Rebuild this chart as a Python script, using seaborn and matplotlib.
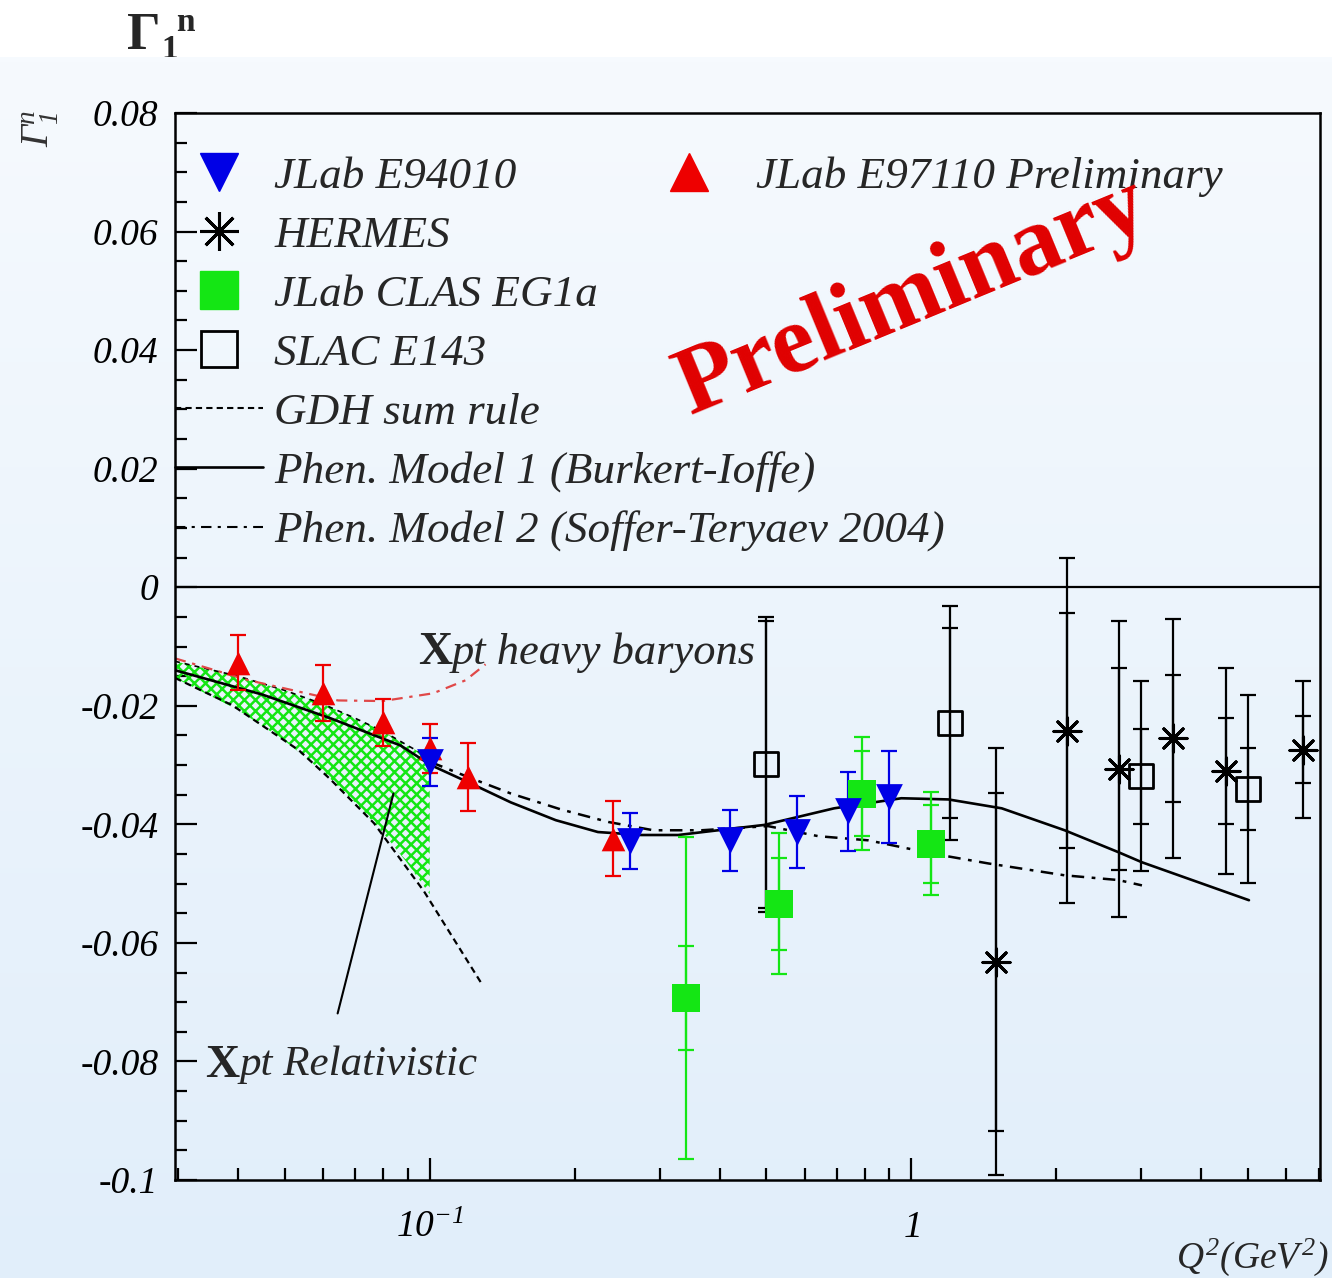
import numpy as np
import matplotlib
matplotlib.use("Agg")
import matplotlib.pyplot as plt
import matplotlib.ticker as mticker
import matplotlib.transforms as mtransforms
from matplotlib.lines import Line2D
import seaborn as sns

sns.set_theme(style="white")
plt.rcParams["font.family"] = ["Liberation Serif", "DejaVu Serif"]
plt.rcParams["font.style"] = "italic"
plt.rcParams["mathtext.fontset"] = "custom"
plt.rcParams["mathtext.rm"] = "Liberation Serif:italic"
plt.rcParams["mathtext.it"] = "Liberation Serif:italic"
plt.rcParams["mathtext.bf"] = "Liberation Serif:bold"
plt.rcParams["hatch.color"] = "#22e022"
plt.rcParams["hatch.linewidth"] = 1.8

# ---------------- measurements: Gamma_1^n(Q^2) ----------------
e94010_q2 = [0.10, 0.26, 0.42, 0.58, 0.74, 0.90]
e94010_g1 = [-0.0295, -0.0428, -0.0427, -0.0413, -0.0378, -0.0354]
e94010_err = [0.0040, 0.0047, 0.0052, 0.0061, 0.0067, 0.0078]

e97110_q2 = [0.04, 0.06, 0.08, 0.10, 0.12, 0.24]
e97110_g1 = [-0.0127, -0.0179, -0.0228, -0.0272, -0.0320, -0.0424]
e97110_err = [0.0046, 0.0047, 0.0040, 0.0042, 0.0058, 0.0063]

hermes_q2 = [1.5, 2.1, 2.7, 3.5, 4.5, 6.5]
hermes_g1 = [-0.0632, -0.0242, -0.0307, -0.0255, -0.0310, -0.0274]
hermes_stat = [0.0285, 0.0198, 0.0170, 0.0107, 0.0089, 0.0057]
hermes_tot = [0.0360, 0.0291, 0.0250, 0.0202, 0.0173, 0.0116]

eg1a_q2 = [0.34, 0.53, 0.79, 1.10]
eg1a_g1 = [-0.0693, -0.0534, -0.0348, -0.0433]
eg1a_stat = [0.0088, 0.0078, 0.0071, 0.0066]
eg1a_tot = [0.0271, 0.0119, 0.0096, 0.0087]

e143_q2 = [0.5, 1.2, 3.0, 5.0]
e143_g1 = [-0.0299, -0.0229, -0.0319, -0.0340]
e143_stat = [0.0242, 0.0161, 0.0080, 0.0069]
e143_tot = [0.0249, 0.0198, 0.0160, 0.0159]

# ---------------- theory curves ----------------
gdh_q2 = [0.0296, 0.0389, 0.0535, 0.0622, 0.0766, 0.0973, 0.128]
gdh_g1 = [-0.0153, -0.0199, -0.0275, -0.0324, -0.0398, -0.0513, -0.0668]

model1_q2 = [0.0296, 0.0449, 0.0622, 0.0870, 0.1005, 0.1217, 0.1474, 0.1827,
             0.2235, 0.2746, 0.328, 0.397, 0.495, 0.691, 0.953, 1.194, 1.54,
             2.08, 2.69, 3.01, 5.02]
model1_g1 = [-0.0140, -0.0181, -0.0221, -0.0267, -0.0300, -0.0331, -0.0363,
             -0.0393, -0.0413, -0.0418, -0.0418, -0.0410, -0.0401, -0.0373,
             -0.0356, -0.0358, -0.0373, -0.0410, -0.0447, -0.0464, -0.0528]

model2_q2 = [0.1005, 0.1217, 0.1474, 0.1875, 0.2348, 0.2913, 0.3664, 0.504,
             0.641, 0.814, 1.116, 1.445, 2.08, 2.69, 3.01]
model2_g1 = [-0.0295, -0.0322, -0.0348, -0.0375, -0.0396, -0.0410, -0.0410,
             -0.0403, -0.0420, -0.0427, -0.0450, -0.0466, -0.0486, -0.0494,
             -0.0503]

hb_q2 = [0.0296, 0.0421, 0.0645, 0.0799, 0.1016, 0.1187, 0.1306]
hb_g1 = [-0.0120, -0.0157, -0.0191, -0.0192, -0.0179, -0.0157, -0.0130]

band_q2 = [0.0296, 0.04, 0.05, 0.06, 0.07, 0.08, 0.09, 0.10]
band_hi = [-0.0125, -0.0150, -0.0174, -0.0197, -0.0221, -0.0243, -0.0267, -0.0288]
band_lo = [-0.0153, -0.0207, -0.0259, -0.0311, -0.0363, -0.0414, -0.0466, -0.0518]

ytick_vals = [-0.1, -0.08, -0.06, -0.04, -0.02, 0.0, 0.02, 0.04, 0.06, 0.08]

BLUE = "#0000e6"
RED = "#ee0000"
GREEN = "#14e614"

W, H = 1332, 1278
fig = plt.figure(figsize=(W / 100, H / 100), dpi=100)
fig.patch.set_facecolor("white")


def fpos(px, py):
    return px / W, 1 - py / H


# header, partly covered by the shaded panel
fig.text(*fpos(127, 49), "Γ", fontsize=38, fontweight="bold", fontstyle="normal",
         va="baseline", ha="left", zorder=-3)
fig.text(*fpos(161, 58), "1", fontsize=24, fontweight="bold", fontstyle="normal",
         va="baseline", ha="left", zorder=-3)
fig.text(*fpos(176, 31), "n", fontsize=24, fontweight="bold", fontstyle="normal",
         va="baseline", ha="left", zorder=-3)

# shaded panel
panel_top = 57
bg = fig.add_axes([0, 0, 1, 1 - panel_top / H], zorder=-1)
t = np.linspace(0, 1, 256)[:, None, None]
top_c = np.array([246, 250, 254]) / 255
bot_c = np.array([225, 238, 250]) / 255
img = top_c * (1 - t) + bot_c * t
bg.imshow(img, aspect="auto", extent=[0, 1, 0, 1], origin="upper")
bg.axis("off")

# main axes
x0, x1, y0, y1 = 175, 1320, 113, 1180
ax = fig.add_axes([x0 / W, 1 - y1 / H, (x1 - x0) / W, (y1 - y0) / H], zorder=1)
ax.set_facecolor("none")
ax.set_xscale("log")
ax.set_xlim(0.0296, 7.05)
ax.set_ylim(-0.1, 0.08)

for sp in ax.spines.values():
    sp.set_visible(True)
    sp.set_color("black")
    sp.set_linewidth(1.8)

ax.axhline(0, color="black", lw=1.6, zorder=1)

# chiral perturbation theory band
ax.fill_between(band_q2, band_lo, band_hi, facecolor="none", edgecolor=GREEN,
                hatch="xxx", linewidth=0, zorder=1)
sns.lineplot(x=band_q2, y=band_hi, ax=ax, color="black", lw=1.2,
             linestyle=(0, (3, 3)), sort=False, estimator=None, zorder=2)

# curves
sns.lineplot(x=hb_q2, y=hb_g1, ax=ax, color="#e04848", lw=1.6,
             linestyle=(0, (5, 3, 1.5, 3)), sort=False, estimator=None, zorder=2)
sns.lineplot(x=gdh_q2, y=gdh_g1, ax=ax, color="black", lw=1.6,
             linestyle=(0, (3, 2)), sort=False, estimator=None, zorder=2)
sns.lineplot(x=model1_q2, y=model1_g1, ax=ax, color="black", lw=1.9,
             sort=False, estimator=None, zorder=2)
sns.lineplot(x=model2_q2, y=model2_g1, ax=ax, color="black", lw=1.8,
             linestyle=(0, (5, 3, 1.5, 3)), sort=False, estimator=None, zorder=2)

# error bars
eb = dict(fmt="none", elinewidth=1.6, capsize=6, capthick=1.6, zorder=3)
ax.errorbar(hermes_q2, hermes_g1, yerr=hermes_tot, ecolor="black", **eb)
ax.errorbar(hermes_q2, hermes_g1, yerr=hermes_stat, ecolor="black", **eb)
ax.errorbar(e143_q2, e143_g1, yerr=e143_tot, ecolor="black", **eb)
ax.errorbar(e143_q2, e143_g1, yerr=e143_stat, ecolor="black", **eb)
ax.errorbar(eg1a_q2, eg1a_g1, yerr=eg1a_tot, ecolor=GREEN, **eb)
ax.errorbar(eg1a_q2, eg1a_g1, yerr=eg1a_stat, ecolor=GREEN, **eb)
ax.errorbar(e97110_q2, e97110_g1, yerr=e97110_err, ecolor=RED, **eb)
ax.errorbar(e94010_q2, e94010_g1, yerr=e94010_err, ecolor=BLUE, **eb)

# markers
sns.scatterplot(x=hermes_q2, y=hermes_g1, ax=ax, marker=(8, 2, 0), s=380,
                color="black", edgecolor="black", linewidth=2.2, zorder=4, legend=False)
sns.scatterplot(x=e143_q2, y=e143_g1, ax=ax, marker="s", s=300, color="black",
                facecolor="none", edgecolor="black", linewidth=2.0, zorder=4, legend=False)
sns.scatterplot(x=eg1a_q2, y=eg1a_g1, ax=ax, marker="s", s=380, color=GREEN,
                edgecolor=GREEN, linewidth=0, zorder=4, legend=False)
sns.scatterplot(x=e97110_q2, y=e97110_g1, ax=ax, marker="^", s=290, color=RED,
                edgecolor=RED, linewidth=0, zorder=4, legend=False)
sns.scatterplot(x=e94010_q2, y=e94010_g1, ax=ax, marker="v", s=370, color=BLUE,
                edgecolor=BLUE, linewidth=0, zorder=5, legend=False)

# ticks
ax.yaxis.set_major_locator(mticker.FixedLocator(ytick_vals))
ax.yaxis.set_minor_locator(mticker.MultipleLocator(0.005))


def yfmt(v, _):
    s = f"{v:.2f}"
    if s in ("0.00", "-0.00"):
        return "0"
    return s.rstrip("0")


ax.yaxis.set_major_formatter(mticker.FuncFormatter(yfmt))
ax.xaxis.set_major_locator(mticker.FixedLocator([0.1, 1.0]))
ax.xaxis.set_minor_locator(mticker.LogLocator(base=10, subs=np.arange(2, 10), numticks=30))
ax.xaxis.set_major_formatter(mticker.NullFormatter())
ax.xaxis.set_minor_formatter(mticker.NullFormatter())
ax.tick_params(which="both", direction="in", left=True, bottom=True, top=False,
               right=False, color="black", width=1.6)
ax.tick_params(which="major", length=15.8)
ax.tick_params(which="minor", length=8.5)
ax.tick_params(axis="y", which="major", labelsize=27, pad=12, labelcolor="black")

xtrans = mtransforms.blended_transform_factory(ax.transData, fig.transFigure)
for val, lab in [(0.1, r"$10^{-1}$"), (1.0, r"$1$")]:
    ax.text(val, 1 - 1237 / H, lab, transform=xtrans, ha="center", va="baseline",
            fontsize=27, color="black")

fig.text(*fpos(1328, 1268), r"$Q^2(GeV^2)$", fontsize=27, ha="right", va="baseline")
fig.text(*fpos(40, 128), r"$\Gamma_1^n$", fontsize=28, rotation=90, ha="center",
         va="center", color="#333333")

# legend
fp = dict(family="Liberation Serif", style="italic", size=32.5)
h_left = [
    Line2D([], [], ls="none", marker="v", ms=28, color=BLUE, mec=BLUE),
    Line2D([], [], ls="none", marker=(8, 2, 0), ms=28, color="black", mew=2.2),
    Line2D([], [], ls="none", marker="s", ms=28, color=GREEN, mec=GREEN),
    Line2D([], [], ls="none", marker="s", ms=26, mfc="none", mec="black", mew=2),
    Line2D([], [], color="black", lw=1.5, ls=(0, (3, 2))),
    Line2D([], [], color="black", lw=1.9),
    Line2D([], [], color="black", lw=1.5, ls=(0, (5, 3, 1.5, 3))),
]
labels_left = ["JLab E94010", "HERMES", "JLab CLAS EG1a", "SLAC E143",
               "GDH sum rule", "Phen. Model 1 (Burkert-Ioffe)",
               "Phen. Model 2 (Soffer-Teryaev 2004)"]
top_frac = (y1 - 156) / (y1 - y0)
leg1 = ax.legend(h_left, labels_left, loc="upper left", bbox_to_anchor=(0, top_frac),
                 bbox_transform=ax.transAxes, frameon=False, prop=fp,
                 handlelength=1.95, handletextpad=0.25, labelspacing=0.41,
                 borderpad=0, borderaxespad=0)
ax.add_artist(leg1)
h_right = [Line2D([], [], ls="none", marker="^", ms=28, color=RED, mec=RED)]
leg2 = ax.legend(h_right, ["JLab E97110 Preliminary"], loc="upper left",
                 bbox_to_anchor=((645 - x0) / (x1 - x0), top_frac),
                 bbox_transform=ax.transAxes, frameon=False, prop=fp,
                 handlelength=1.95, handletextpad=0.5, borderpad=0, borderaxespad=0)

# annotations
fig.text(*fpos(913, 298), "Preliminary", fontsize=70, fontweight="bold",
         fontstyle="normal", color="#e00000", rotation=22.4, rotation_mode="anchor",
         ha="center", va="center", zorder=5)

fig.text(*fpos(418, 664), "X", fontsize=34, fontweight="bold", fontstyle="normal",
         va="baseline", ha="left", zorder=5)
fig.text(*fpos(452, 664), "pt heavy baryons", fontsize=32, va="baseline", ha="left",
         zorder=5)
fig.text(*fpos(205, 1077), "X", fontsize=34, fontweight="bold", fontstyle="normal",
         va="baseline", ha="left", zorder=5)
fig.text(*fpos(240, 1075), "pt Relativistic", fontsize=31, va="baseline", ha="left",
         zorder=5)
ax.annotate("", xy=(0.0841, -0.0348), xytext=(0.0644, -0.0719),
            arrowprops=dict(arrowstyle="-", lw=1.5, color="black",
                            shrinkA=0, shrinkB=0))

fig.savefig("out.png", dpi=100)
